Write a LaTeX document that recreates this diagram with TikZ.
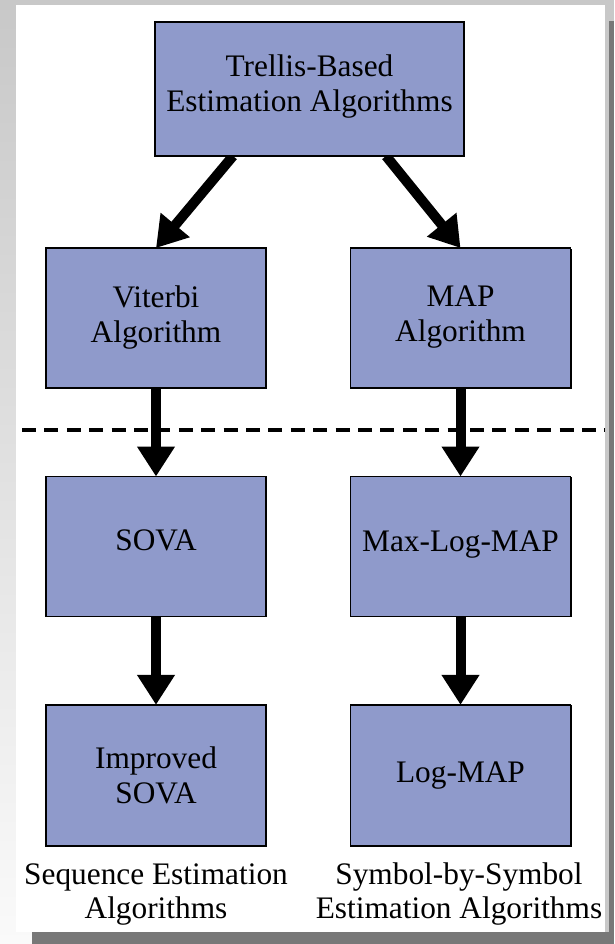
\documentclass[tikz,border=0pt]{standalone}
\usepackage{fontspec}
\setmainfont{Liberation Serif}
\usetikzlibrary{arrows.meta,shadows}
\pgfdeclarelayer{bg}
\pgfdeclarelayer{back}
\pgfsetlayers{bg,back,main}
\definecolor{boxfill}{HTML}{8F9ACB}
\definecolor{frame}{HTML}{C8C8C8}
\definecolor{frameLight}{HTML}{FAFAFA}
\definecolor{shadowgrey}{HTML}{787878}
\tikzset{
  algbox/.style={draw=black, line width=1.1pt, fill=boxfill, inner sep=0pt, outer sep=0pt,
    align=center, font=\fontsize{23.5}{26.25}\selectfont,
    general shadow={fill=black, shadow xshift=1.1pt, shadow yshift=-0.4pt}},
  smallbox/.style={algbox, minimum width=165pt, minimum height=105pt},
  flowarrow/.style={line width=7.5pt, -{Triangle[length=22.5pt,width=27pt]}},
  sepline/.style={line width=3pt, dash pattern=on 10.5pt off 6.3pt},
  caption/.style={align=center, inner sep=0pt, font=\fontsize{23.5}{25.5}\selectfont}
}
\begin{document}
\begin{tikzpicture}[x=0.75pt,y=-0.75pt]
\useasboundingbox (0,0) rectangle (614,944);
\begin{pgfonlayer}{bg}
  \fill[frame] (0,0) rectangle (614,944);
  \shade[top color=frame, bottom color=frameLight] (0,0) rectangle (32,944);
  \fill[white] (16,5) rectangle (605,932);
  \fill[shadowgrey] (609,21) rectangle (614,944);
  \fill[shadowgrey] (32,932) rectangle (614,944);
\end{pgfonlayer}

\node[algbox, minimum width=231.75pt, minimum height=100.5pt] (top) at (309.5,89)
  {Trellis-Based\\Estimation Algorithms\\[-17pt]};
\node[smallbox] (vit) at (156,318) {Viterbi\\Algorithm\\[-20pt]};
\node[smallbox] (map) at (460.5,318) {MAP\\Algorithm\\[-20pt]};
\node[smallbox] (sova) at (156,546.5) {SOVA\\[-16.5pt]};
\node[smallbox] (mlm) at (460.5,546.5) {Max-Log-MAP\\[-18pt]};
\node[smallbox, minimum height=106pt] (isova) at (156,775.5) {Improved\\SOVA};
\node[smallbox, minimum height=106pt] (lmap) at (460.5,775.5) {Log-MAP};

\node[caption] (lab1) at (156,894) {Sequence Estimation\\Algorithms};
\node[caption] (lab2) at (459,894) {Symbol-by-Symbol\\Estimation Algorithms};

\coordinate (dl) at (22,430);
\coordinate (dr) at (605,430);

\begin{pgfonlayer}{back}
  \draw[flowarrow] ([xshift=-57.4pt]top.south) -- (vit.north);
  \draw[flowarrow] ([xshift=57.4pt]top.south) -- (map.north);
  \draw[flowarrow] (vit) -- (sova);
  \draw[flowarrow] (map) -- (mlm);
  \draw[flowarrow] (sova) -- (isova);
  \draw[flowarrow] (mlm) -- (lmap);
  \draw[sepline] (dl) -- (dr);
\end{pgfonlayer}
\end{tikzpicture}
\end{document}
